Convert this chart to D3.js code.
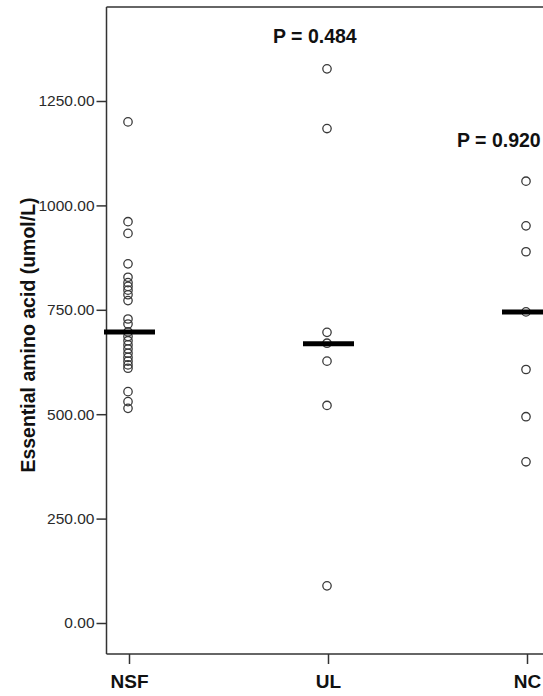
<!DOCTYPE html>
<html>
<head>
<meta charset="utf-8">
<script src="https://cdn.jsdelivr.net/npm/d3@7"></script>
<style>
  html, body { margin: 0; padding: 0; background: #fff; }
  svg { display: block; }
  text { font-family: Arial, "Liberation Sans", sans-serif; }
</style>
</head>
<body>
<svg id="chart" width="543" height="696"></svg>
<script>
// ---- data ----
const categories = ["NSF", "UL", "NC"];
const nsfValues = [1200, 961, 933, 860, 828, 815, 806, 797, 786, 772, 728, 716, 697,
                   686, 676, 666, 656, 646, 636, 627, 618, 610, 554, 530, 514];
const ulValues = [1327, 1184, 696, 670, 627, 521, 89];
const ncValues = [1058, 951, 889, 745, 607, 494, 386];
const medians = [697, 669, 745];
const yTicks = [0, 250, 500, 750, 1000, 1250];
const pLabels = ["P = 0.484", "P = 0.920"];
const yTitle = "Essential amino acid (umol/L)";

const seriesByCat = { NSF: nsfValues, UL: ulValues, NC: ncValues };

// ---- layout ----
const W = 543, H = 696;
const axisX = 106.5, plotTop = 7, plotBottom = 654;
const svg = d3.select("#chart");

const y = d3.scaleLinear().domain([0, 1250]).range([623, 101]);
const x = d3.scalePoint().domain(categories).range([129, 527]);

const ink = "#333";

// frame: left axis line, top border, bottom axis line
svg.append("line").attr("x1", axisX).attr("x2", axisX).attr("y1", plotTop).attr("y2", plotBottom)
  .attr("stroke", ink).attr("stroke-width", 1.5);
svg.append("line").attr("x1", axisX).attr("x2", W + 5).attr("y1", plotTop).attr("y2", plotTop)
  .attr("stroke", ink).attr("stroke-width", 1.5);
svg.append("line").attr("x1", axisX).attr("x2", W + 5).attr("y1", plotBottom).attr("y2", plotBottom)
  .attr("stroke", ink).attr("stroke-width", 1.5);

// y axis
const yAxis = svg.append("g").attr("transform", `translate(${axisX},0)`)
  .call(d3.axisLeft(y).tickValues(yTicks).tickSize(10).tickPadding(2).tickFormat(d3.format(".2f")));
yAxis.select(".domain").remove();
yAxis.selectAll(".tick line").attr("stroke", ink).attr("stroke-width", 1.5);
yAxis.selectAll(".tick text").attr("fill", "#2a2a2a")
  .style("font-size", "15.5px").style("font-family", 'Arial, "Liberation Sans", sans-serif');

// x axis
const xAxis = svg.append("g").attr("transform", `translate(0,${plotBottom})`)
  .call(d3.axisBottom(x).tickSize(10).tickPadding(0));
xAxis.select(".domain").remove();
xAxis.selectAll(".tick line").attr("stroke", ink).attr("stroke-width", 1.5);
xAxis.selectAll(".tick text").attr("fill", "#111").attr("y", 34).attr("dy", 0)
  .style("font-size", "19px").style("font-weight", "bold")
  .style("font-family", 'Arial, "Liberation Sans", sans-serif');

// y title
svg.append("text")
  .attr("transform", `translate(35,335) rotate(-90)`)
  .attr("text-anchor", "middle")
  .style("font-size", "19.5px").style("font-weight", "bold").attr("fill", "#111")
  .text(yTitle);

// points
const pts = [];
categories.forEach(c => seriesByCat[c].forEach(v => pts.push({ c, v })));
svg.append("g").selectAll("circle").data(pts).join("circle")
  .attr("cx", d => x(d.c) - 1)
  .attr("cy", d => y(d.v))
  .attr("r", 4.2)
  .attr("fill", "none")
  .attr("stroke", "#3a3a3a")
  .attr("stroke-width", 1.3);

// median bars
svg.append("g").selectAll("line").data(categories).join("line")
  .attr("x1", (c) => x(c) - 25)
  .attr("x2", (c) => x(c) + 26)
  .attr("y1", (c, i) => y(medians[i]))
  .attr("y2", (c, i) => y(medians[i]))
  .attr("stroke", "#000")
  .attr("stroke-width", 5);

// p-value annotations
svg.append("text").attr("x", 273).attr("y", 42.5)
  .style("font-size", "19.5px").style("font-weight", "bold").attr("fill", "#111")
  .text(pLabels[0]);
svg.append("text").attr("x", 457).attr("y", 146.5)
  .style("font-size", "19.5px").style("font-weight", "bold").attr("fill", "#111")
  .text(pLabels[1]);
</script>
</body>
</html>
